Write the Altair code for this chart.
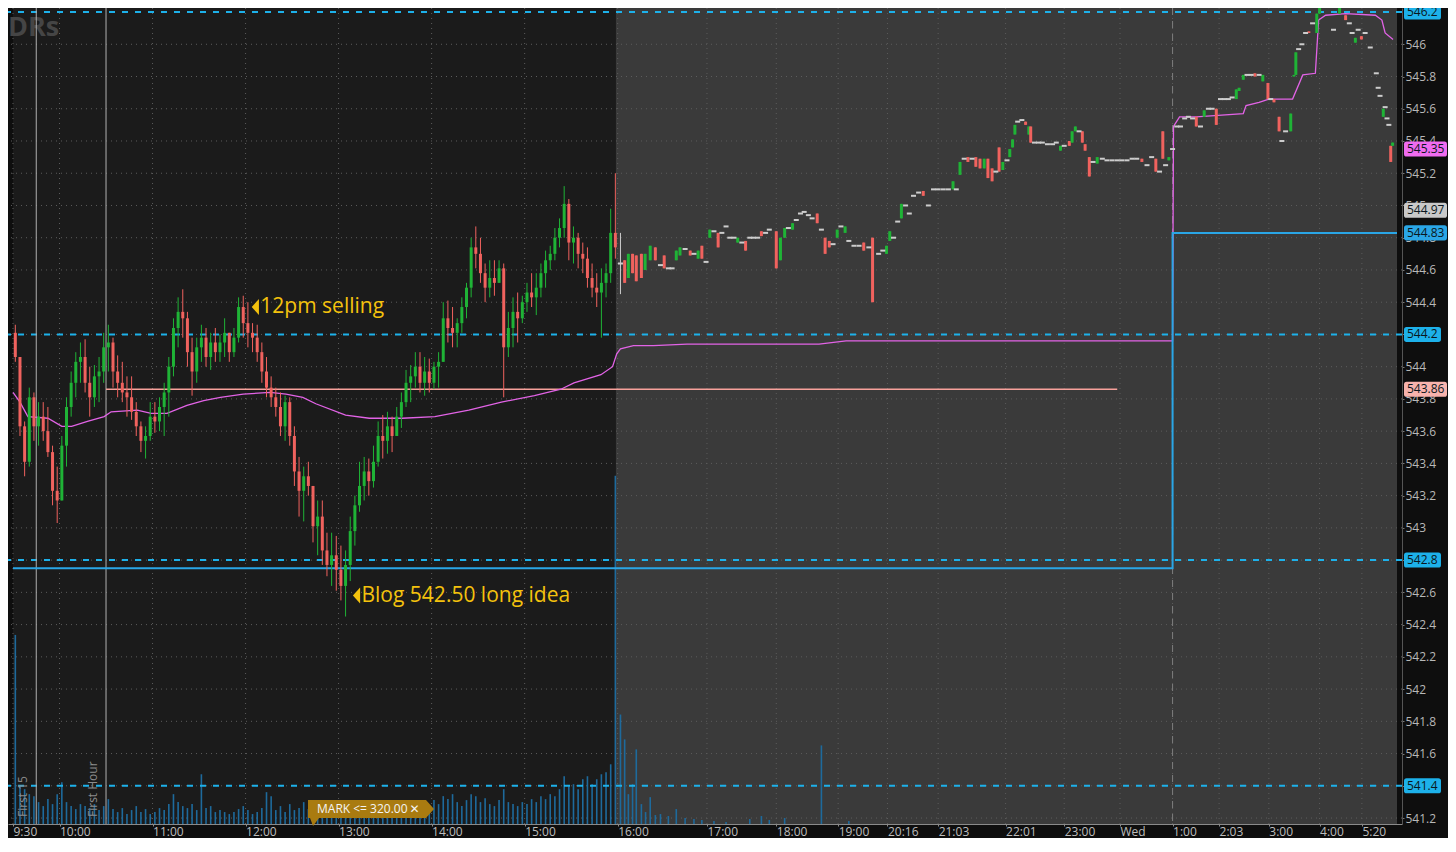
import altair as alt
import pandas as pd

# ---------------- layout constants ----------------
W, H = 1394, 816
SLOT_MAX = 297.55
P_LO, P_HI = 541.163, 546.225

# ---------------- data ----------------
# regular session, 3-minute bars (slot = bar number from 9:30)
reg_first_open = 544.21
reg_close = [544.06,543.63,543.41,543.81,543.63,543.69,543.60,543.47,543.23,543.17,
             543.51,543.75,543.90,544.03,544.06,543.90,543.81,543.94,543.97,544.12,
             544.15,543.97,543.90,543.84,543.81,543.72,543.63,543.54,543.57,543.69,
             543.66,543.75,543.84,544.00,544.24,544.34,544.30,544.09,543.97,544.12,
             544.18,544.06,544.15,544.09,544.15,544.21,544.09,544.18,544.37,544.27,
             544.21,544.18,544.09,543.97,543.87,543.81,543.75,543.63,543.78,543.57,
             543.35,543.23,543.32,543.26,543.01,543.07,542.86,542.77,542.83,542.74,
             542.64,542.77,542.98,543.14,543.26,543.35,543.29,543.41,543.57,543.54,
             543.63,543.57,543.69,543.78,543.90,543.94,544.00,543.90,543.97,543.90,
             544.00,544.03,544.30,544.24,544.21,544.27,544.37,544.49,544.74,544.70,
             544.58,544.49,544.55,544.52,544.61,544.12,544.24,544.34,544.30,544.40,
             544.46,544.43,544.49,544.58,544.66,544.70,544.80,544.86,545.01,544.77,
             544.80,544.70,544.67,544.55,544.49,544.46,544.52,544.58,544.83,544.74]
reg_high = [544.26,544.06,543.66,543.87,543.84,543.78,543.78,543.75,543.51,543.38,
            543.57,543.81,543.97,544.09,544.15,544.17,544.00,544.01,544.06,544.21,
            544.26,544.18,544.07,544.03,543.94,543.94,543.78,543.66,543.63,543.78,
            543.78,543.81,543.90,544.06,544.30,544.43,544.48,544.34,544.18,544.18,
            544.26,544.24,544.21,544.24,544.20,544.30,544.21,544.24,544.43,544.44,
            544.40,544.27,544.26,544.15,544.06,543.94,543.87,543.84,543.82,543.81,
            543.63,543.44,543.38,543.41,543.26,543.17,543.17,542.97,542.97,542.95,
            542.89,542.86,543.07,543.20,543.41,543.44,543.43,543.51,543.66,543.70,
            543.72,543.69,543.75,543.84,543.98,544.01,544.09,544.09,544.06,544.05,
            544.03,544.09,544.40,544.41,544.37,544.30,544.43,544.52,544.80,544.87,
            544.80,544.64,544.66,544.66,544.66,544.64,544.34,544.43,544.46,544.44,
            544.52,544.58,544.58,544.64,544.72,544.75,544.86,544.92,545.12,545.04,
            544.87,544.83,544.77,544.74,544.64,544.58,544.61,544.64,544.98,545.20]
reg_low = [544.03,543.57,543.32,543.38,543.54,543.51,543.54,543.44,543.14,543.03,
           543.17,543.38,543.69,543.81,543.90,543.84,543.69,543.75,543.78,543.90,
           543.97,543.87,543.81,543.78,543.69,543.67,543.57,543.47,543.43,543.54,
           543.59,543.60,543.57,543.69,543.94,544.12,544.18,544.00,543.82,543.90,
           544.03,544.00,543.98,544.03,544.03,544.06,544.03,544.06,544.15,544.18,
           544.12,544.09,544.03,543.90,543.81,543.75,543.69,543.57,543.54,543.51,
           543.26,543.07,543.04,543.20,542.91,542.83,542.77,542.70,542.64,542.61,
           542.55,542.45,542.67,542.89,543.10,543.17,543.20,543.25,543.38,543.43,
           543.46,543.47,543.57,543.62,543.75,543.78,543.87,543.84,543.82,543.84,
           543.86,543.87,544.03,544.15,544.12,544.12,544.21,544.30,544.43,544.61,
           544.52,544.40,544.43,544.44,544.52,543.81,544.06,544.12,544.15,544.27,
           544.34,544.37,544.32,544.43,544.49,544.60,544.66,544.74,544.80,544.66,
           544.64,544.61,544.58,544.49,544.43,544.37,544.18,544.43,544.52,544.67]
reg_volume = [1900,380,350,300,280,220,180,250,200,300,
              420,220,180,150,200,180,160,200,140,180,
              250,150,120,160,100,140,180,120,150,100,
              120,160,140,200,300,220,180,160,200,140,
              500,160,180,120,140,120,100,120,150,180,
              140,100,120,160,320,280,140,180,120,200,
              140,160,220,150,180,140,180,150,120,160,
              200,140,100,120,160,120,140,120,150,140,
              120,180,160,140,200,150,180,160,140,180,
              240,200,280,250,300,220,180,240,300,280,
              220,260,200,180,240,350,220,200,180,220,
              200,250,220,280,250,300,280,350,480,380,
              400,350,450,480,400,450,500,520,600,3500]

# extended hours bars (slot = bar position on the compressed time axis)
ext_slot = [130.6,131.5,132.3,133.2,134.0,135.1,135.9,137.0,138.1,139.2,
            140.0,140.9,141.7,142.6,143.4,144.5,145.6,146.4,147.3,148.1,
            149.0,149.8,150.7,151.6,152.4,153.3,154.1,155.0,155.8,156.7,
            157.5,158.4,159.2,160.1,160.9,161.8,162.6,164.1,165.0,165.9,
            166.7,167.6,168.4,169.3,170.1,171.0,171.8,172.9,173.8,174.6,
            175.5,176.3,177.2,178.0,178.9,179.7,180.8,181.9,182.9,184.0,
            184.8,186.1,187.0,187.8,188.5,189.3,190.2,191.0,191.9,192.7,
            193.6,194.7,195.7,196.8,197.9,198.9,200.0,201.1,202.1,202.8,
            203.6,204.5,205.3,206.2,207.0,207.9,208.8,209.6,210.5,211.3,
            212.0,212.8,213.7,214.3,214.9,215.4,216.0,216.9,217.7,218.4,
            218.8,219.6,220.5,221.3,222.4,223.5,224.3,225.2,226.0,227.1,
            227.7,228.4,229.2,229.9,230.5,231.4,232.2,233.1,234.2,235.2,
            236.3,237.4,238.4,239.5,240.6,241.6,242.7,243.8,244.8,245.7,
            246.5,247.2,247.8,248.5,249.3,250.2,251.0,251.9,252.7,253.6,
            254.4,255.3,256.1,257.0,257.8,258.7,259.6,260.4,261.3,262.1,
            263.0,263.6,264.5,265.3,266.2,267.0,267.9,268.7,269.8,270.4,
            271.1,272.2,272.8,273.6,274.7,275.4,275.8,276.4,277.1,277.9,
            278.6,279.4,280.3,280.9,281.8,282.8,283.9,284.5,285.2,286.5,
            287.3,287.9,288.6,289.2,289.9,290.7,291.8,293.1,293.5,293.9,
            294.6,295.0,295.4,295.8,296.2,296.6]
ext_open = [544.64,544.66,544.55,544.70,544.69,544.70,544.60,544.66,544.74,544.63,
            544.69,544.61,544.61,544.66,544.69,544.73,544.72,544.70,544.67,544.75,
            544.65,544.80,544.84,544.83,544.83,544.87,544.80,544.80,544.77,544.77,
            544.78,544.80,544.80,544.80,544.84,544.83,544.85,544.84,544.66,544.80,
            544.86,544.85,544.91,544.95,544.96,544.94,544.92,544.95,544.85,544.80,
            544.78,544.76,544.80,544.87,544.83,544.78,544.75,544.75,544.77,544.74,
            544.80,544.70,544.72,544.70,544.78,544.80,544.90,544.92,545.00,544.95,
            545.06,545.08,545.09,545.00,545.10,545.10,545.10,545.10,545.10,545.10,
            545.19,545.29,545.30,545.29,545.30,545.29,545.23,545.29,545.23,545.21,
            545.36,545.22,545.28,545.30,545.36,545.44,545.52,545.53,545.52,545.44,
            545.49,545.39,545.39,545.39,545.38,545.38,545.39,545.34,545.37,545.40,
            545.39,545.46,545.46,545.46,545.38,545.30,545.27,545.26,545.29,545.28,
            545.28,545.28,545.28,545.28,545.29,545.29,545.29,545.25,545.30,545.29,
            545.21,545.46,545.25,545.28,545.35,545.49,545.49,545.54,545.55,545.54,
            545.55,545.49,545.55,545.60,545.60,545.60,545.66,545.66,545.66,545.67,
            545.66,545.71,545.78,545.81,545.81,545.82,545.81,545.77,545.76,545.66,
            545.66,545.55,545.40,545.46,545.46,545.80,545.81,545.97,546.00,546.07,
            546.08,546.13,546.07,546.19,546.24,546.24,546.09,546.24,546.19,546.18,
            546.13,546.07,546.01,546.09,546.05,546.07,545.98,545.82,545.73,545.68,
            545.55,545.61,545.54,545.50,545.37,545.37]
ext_close = [544.64,544.52,544.70,544.58,544.53,544.55,544.70,544.75,544.66,544.63,
             544.61,544.61,544.61,544.72,544.74,544.73,544.69,544.70,544.72,544.67,
             544.65,544.85,544.84,544.74,544.83,544.87,544.80,544.80,544.80,544.77,
             544.72,544.80,544.80,544.80,544.81,544.83,544.85,544.61,544.80,544.86,
             544.86,544.89,544.91,544.95,544.96,544.94,544.92,544.89,544.85,544.70,
             544.74,544.76,544.85,544.87,544.87,544.78,544.75,544.75,544.72,544.74,
             544.40,544.70,544.72,544.75,544.84,544.80,544.90,545.01,545.00,544.95,
             545.06,545.08,545.06,545.00,545.10,545.10,545.10,545.10,545.15,545.10,
             545.27,545.29,545.27,545.29,545.24,545.23,545.29,545.17,545.15,545.21,
             545.21,545.27,545.28,545.35,545.41,545.50,545.52,545.53,545.50,545.49,
             545.39,545.39,545.39,545.39,545.38,545.38,545.39,545.37,545.37,545.37,
             545.46,545.49,545.46,545.39,545.34,545.18,545.27,545.30,545.29,545.28,
             545.28,545.28,545.28,545.28,545.29,545.29,545.27,545.25,545.30,545.21,
             545.21,545.29,545.25,545.30,545.35,545.49,545.49,545.54,545.55,545.54,
             545.49,545.49,545.59,545.60,545.60,545.50,545.66,545.66,545.66,545.67,
             545.72,545.73,545.81,545.81,545.81,545.80,545.81,545.81,545.66,545.66,
             545.64,545.46,545.40,545.46,545.57,545.81,545.95,545.97,546.00,546.07,
             546.07,546.13,546.19,546.27,546.24,546.24,546.09,546.24,546.26,546.15,
             546.13,546.07,546.04,546.09,546.03,546.07,545.98,545.82,545.73,545.68,
             545.60,545.61,545.54,545.50,545.27,545.39]
ext_wick_slot = [130.6]
ext_wick_high = [544.83]
ext_wick_low = [544.45]
ext_vol_slot = [130.6,131.5,132.3,133.2,134.0,135.1,136.0,137.0,138.1,139.2,140.9,142.6,
                144.5,146.4,148.1,150.7,153.3,158.4,160.9,162.6,165.9,173.8,179.7]
ext_vol = [1100,850,300,400,750,200,120,270,90,100,80,150,60,50,40,30,20,50,80,40,60,790,30]

# VWAP (slot, price)
vwap_slot = [0,1.5,3.2,7.5,10.5,12.6,16.0,19.6,21.1,26.7,29.7,33.1,37.4,41.0,44.6,49.5,55.3,58.7,
             62.3,65.1,71.5,76.6,83.7,90.7,98.0,105.0,112.1,117.8,120.6,126.4,128.9,129.8,130.6,
             133.4,137.7,144.9,173.3,179.1,249.3,249.5,250.8,254.4,264.5,265.1,267.9,270.0,275.1,
             277.3,280.0,280.7,282.2,286.5,292.9,294.3,295.0,296.7]
vwap_price = [543.84,543.78,543.69,543.68,543.63,543.63,543.66,543.69,543.72,543.73,543.71,543.71,
              543.76,543.79,543.81,543.83,543.84,543.83,543.81,543.77,543.70,543.68,543.68,543.69,
              543.73,543.78,543.82,543.86,543.90,543.95,544.00,544.08,544.11,544.13,544.13,544.14,
              544.14,544.16,544.16,545.49,545.55,545.55,545.57,545.62,545.64,545.66,545.66,545.81,
              545.82,546.15,546.18,546.19,546.18,546.15,546.07,546.03]

# blue step line (slot, price)
blue_slot = [0, 249.3, 249.3, SLOT_MAX]
blue_price = [542.75, 542.75, 544.83, 544.83]

level_prices = [546.2, 544.2, 542.8, 541.4]
pink_level = 543.86
pink_from, pink_to = 20, 237.4
session_marks = [5, 20]            # 9:45 and 10:30
day_break = 249.3

price_ticks = [541.2,541.4,541.6,541.8,542.0,542.2,542.4,542.6,542.8,543.0,543.2,543.4,543.6,
               543.8,544.0,544.2,544.4,544.6,544.8,545.0,545.2,545.4,545.6,545.8,546.0]
x_tick_slots = [0,10,30,50,70,90,110,130,149.2,164.1,177.4,188.0,198.9,213.4,226.0,238.0,
                249.3,259.3,270.0,280.9,290.0]
x_tick_labels = ["9:30","10:00","11:00","12:00","13:00","14:00","15:00","16:00","17:00","18:00",
                 "19:00","20:16","21:03","22:01","23:00","Wed","1:00","2:03","3:00","4:00","5:20"]

badge_values = [546.2, 545.35, 544.97, 544.83, 544.2, 543.86, 542.8, 541.4]
badge_text = ["546.2", "545.35", "544.97", "544.83", "544.2", "543.86", "542.8", "541.4"]
badge_colors = ["#1db1ea", "#f06cf0", "#c9c9c9", "#2aa6e6", "#1db1ea", "#f7b3ad", "#1db1ea", "#1db1ea"]

notes_text = ["12pm selling", "Blog 542.50 long idea"]
notes_slot = [52.1, 73.85]
notes_price = [544.37, 542.58]

# ---------------- frames ----------------
rows = []
prev = reg_first_open
for k, (c, h, l) in enumerate(zip(reg_close, reg_high, reg_low)):
    o = prev
    rows.append(dict(slot=k + 0.5, open=o, close=c, high=max(h, o, c), low=min(l, o, c)))
    prev = c
wmap = {s: (h, l) for s, h, l in zip(ext_wick_slot, ext_wick_high, ext_wick_low)}
for s, o, c in zip(ext_slot, ext_open, ext_close):
    h, l = wmap.get(s, (max(o, c), min(o, c)))
    rows.append(dict(slot=s, open=o, close=c, high=max(h, o, c), low=min(l, o, c)))
candles = pd.DataFrame(rows)
candles["dir"] = ["up" if c > o + 1e-9 else ("down" if c < o - 1e-9 else "flat")
                  for o, c in zip(candles["open"], candles["close"])]

vol = pd.DataFrame({"slot": [k + 0.5 for k in range(len(reg_volume))] + ext_vol_slot,
                    "vol": reg_volume + ext_vol})
bands = pd.DataFrame({"start": [0, 129.6], "end": [129.6, SLOT_MAX], "fill": ["#1b1b1b", "#3a3a3a"]})
vwap = pd.DataFrame({"slot": vwap_slot, "price": vwap_price, "i": list(range(len(vwap_slot)))})
blue = pd.DataFrame({"slot": blue_slot, "price": blue_price, "i": list(range(len(blue_slot)))})
levels = pd.DataFrame({"price": level_prices})
pinkdf = pd.DataFrame({"a": [pink_from], "b": [pink_to], "price": [pink_level]})
vgrid = pd.DataFrame({"slot": x_tick_slots})
hgrid = pd.DataFrame({"price": price_ticks})
sess = pd.DataFrame({"slot": session_marks})
brk = pd.DataFrame({"slot": [day_break]})
badges = pd.DataFrame({"price": badge_values, "txt": badge_text, "col": badge_colors})
badges["long"] = badges["txt"].str.len() > 5
notes = pd.DataFrame({"slot": notes_slot, "price": notes_price, "txt": notes_text})

# ---------------- scales / styles ----------------
xs = alt.Scale(domain=[0, SLOT_MAX], nice=False, zero=False)
ys = alt.Scale(domain=[P_LO, P_HI], nice=False, zero=False)
UP, DOWN, FLAT = "#1fb336", "#f0625e", "#cdcdcd"
dir_color = alt.Color("dir:N", scale=alt.Scale(domain=["up", "down", "flat"], range=[UP, DOWN, FLAT]), legend=None)
FONT = "Open Sans"
GOLD = "#f4c20d"

label_expr = "{}[indexof({}, datum.value)]".format(
    "[" + ",".join("'%s'" % t for t in x_tick_labels) + "]",
    "[" + ",".join(str(v) for v in x_tick_slots) + "]")
XAXIS = alt.Axis(
    values=x_tick_slots, labelExpr=label_expr, orient="bottom", title=None, grid=False,
    labelAlign="left", labelBaseline="top", labelFlush=False, labelOverlap=False, labelFont=FONT,
    labelFontSize=12, labelColor="#bdbdbd", labelPadding=0, tickSize=2, tickColor="#8a8a8a",
    domainColor="#8a8a8a")


def X(f="slot"):
    return alt.X(f"{f}:Q", scale=xs, axis=XAXIS)


def Y(f="price"):
    return alt.Y(f"{f}:Q", scale=ys, axis=None)


band_layer = alt.Chart(bands).mark_rect().encode(
    x=X("start"), x2="end:Q",
    y=alt.value(0), y2=alt.value(H),
    color=alt.Color("fill:N", scale=None),
)

vgrid_layer = alt.Chart(vgrid).mark_rule(color="#5c5c5c", strokeDash=[1, 4], strokeWidth=1).encode(x=X())
hgrid_layer = alt.Chart(hgrid).mark_rule(color="#5c5c5c", strokeDash=[1, 4], strokeWidth=1).encode(
    y=alt.Y("price:Q", scale=ys, axis=alt.Axis(
        orient="right", values=price_ticks, format=".1~f", title=None, grid=False,
        labelFont=FONT, labelFontSize=12, labelColor="#b8b8b8", labelFlush=False, labelOverlap=False,
        labelPadding=1, tickSize=2, tickColor="#777777", domainColor="#555555")))

vol_layer = alt.Chart(vol).mark_bar(size=1.6, color="#1e6a9c", clip=True).encode(
    x=X(), y=alt.Y("vol:Q", scale=alt.Scale(domain=[0, 8200], nice=False), axis=None))

level_layer = alt.Chart(levels).mark_rule(color="#1db1ea", strokeDash=[6, 7], strokeWidth=2).encode(y=Y())
sess_layer = alt.Chart(sess).mark_rule(color="#b0b0b0", strokeWidth=1).encode(x=X())
brk_layer = alt.Chart(brk).mark_rule(color="#7d7d7d", strokeDash=[7, 6], strokeWidth=1).encode(x=X())
pink_layer = alt.Chart(pinkdf).mark_rule(color="#f7a19b", strokeWidth=1.3).encode(
    x=X("a"), x2="b:Q", y=Y())
vwap_layer = alt.Chart(vwap).mark_line(color="#e263e6", strokeWidth=1.3, clip=True).encode(
    x=X(), y=Y(), order="i:Q")
blue_layer = alt.Chart(blue).mark_line(color="#2aa6e6", strokeWidth=2).encode(
    x=X(), y=Y(), order="i:Q")

wick_layer = alt.Chart(candles).mark_rule(strokeWidth=1, clip=True).encode(
    x=X(), y=Y("low"), y2="high:Q", color=dir_color)
body_layer = alt.Chart(candles).transform_filter("datum.dir != 'flat'").mark_bar(size=3, clip=True).encode(
    x=X(), y=Y("open"), y2="close:Q", color=dir_color)
flat_layer = alt.Chart(candles).transform_filter("datum.dir == 'flat'").mark_tick(
    orient="horizontal", size=5, thickness=2, opacity=1, clip=True).encode(
    x=X(), y=Y("close"), color=dir_color)


def rrect(x0, x1, h, r):
    return (f"M{x0 + r},{-h} L{x1 - r},{-h} Q{x1},{-h} {x1},{-h + r} L{x1},{h - r} Q{x1},{h} {x1 - r},{h} "
            f"L{x0 + r},{h} Q{x0},{h} {x0},{h - r} L{x0},{-h + r} Q{x0},{-h} {x0 + r},{-h} Z")


badge_short = alt.Chart(badges).transform_filter("!datum.long").mark_point(
    shape=rrect(-1, 0.72, 0.349, 0.12), filled=True, opacity=1, size=1849, strokeWidth=0).encode(
    x=alt.value(1417.5), y=Y(), color=alt.Color("col:N", scale=None))
badge_long = alt.Chart(badges).transform_filter("datum.long").mark_point(
    shape=rrect(-1, 1, 0.349, 0.12), filled=True, opacity=1, size=1849, strokeWidth=0).encode(
    x=alt.value(1417.5), y=Y(), color=alt.Color("col:N", scale=None))
badge_text_layer = alt.Chart(badges).mark_text(
    align="left", baseline="middle", font=FONT, fontSize=12, color="#0b1720").encode(
    x=alt.value(1399), y=Y(), text="txt:N")

tri_layer = alt.Chart(notes).mark_point(
    shape="M0.45,-1 L-0.45,0 L0.45,1 Z", filled=True, opacity=1, size=256, color=GOLD, strokeWidth=0).encode(
    x=X(), y=Y())
note_layer = alt.Chart(notes).mark_text(
    align="left", baseline="middle", font=FONT, fontSize=21, color=GOLD, dx=5).encode(
    x=X(), y=Y(), text="txt:N")

deco = pd.DataFrame({"k": [0]})
mark_badge = alt.Chart(deco).mark_point(
    shape="M-1,-0.143 L0.873,-0.143 L1,0 L0.873,0.143 L-0.825,0.143 L-0.92,0.27 L-0.968,0.143 L-1,0.143 Z",
    filled=True, opacity=1, size=15876, color="#a97b10", strokeWidth=0).encode(
    x=alt.value(363), y=alt.value(801))
mark_txt = alt.Chart(deco).mark_text(
    align="left", baseline="middle", font=FONT, fontSize=12, color="#f4f4f4", text="MARK <= 320.00").encode(
    x=alt.value(309), y=alt.value(801))
mark_x = alt.Chart(deco).mark_text(
    align="center", baseline="middle", font="DejaVu Sans", fontSize=12, fontWeight="bold",
    color="#f4f4f4", text="✕").encode(x=alt.value(406.5), y=alt.value(801))
first15 = alt.Chart(deco).mark_text(
    align="left", baseline="middle", angle=270, font=FONT, fontSize=12, color="#8c8c8c",
    text="First 15").encode(x=alt.value(15), y=alt.value(809))
firsthr = alt.Chart(deco).mark_text(
    align="left", baseline="middle", angle=270, font=FONT, fontSize=12, color="#8c8c8c",
    text="First Hour").encode(x=alt.value(85), y=alt.value(809))
wm = alt.Chart(deco).mark_text(
    align="left", baseline="middle", font=FONT, fontSize=27, fontWeight="bold", color="#454545",
    text="DRs").encode(x=alt.value(0), y=alt.value(20))

chart = alt.layer(
    band_layer, vgrid_layer, hgrid_layer, wm, vol_layer, level_layer, sess_layer, brk_layer,
    pink_layer, vwap_layer, blue_layer, wick_layer, body_layer, flat_layer,
    badge_short, badge_long, badge_text_layer, tri_layer, note_layer,
    mark_badge, mark_txt, mark_x, first15, firsthr,
).resolve_scale(y="independent").properties(
    width=W, height=H,
    padding={"left": 0, "top": 0, "right": 46, "bottom": 14},
    autosize=alt.AutoSizeParams(type="none"),
    background="#0e0e0e",
).configure_view(stroke=None)

chart.save("out.html", embed_options={"renderer": "svg", "actions": False})
